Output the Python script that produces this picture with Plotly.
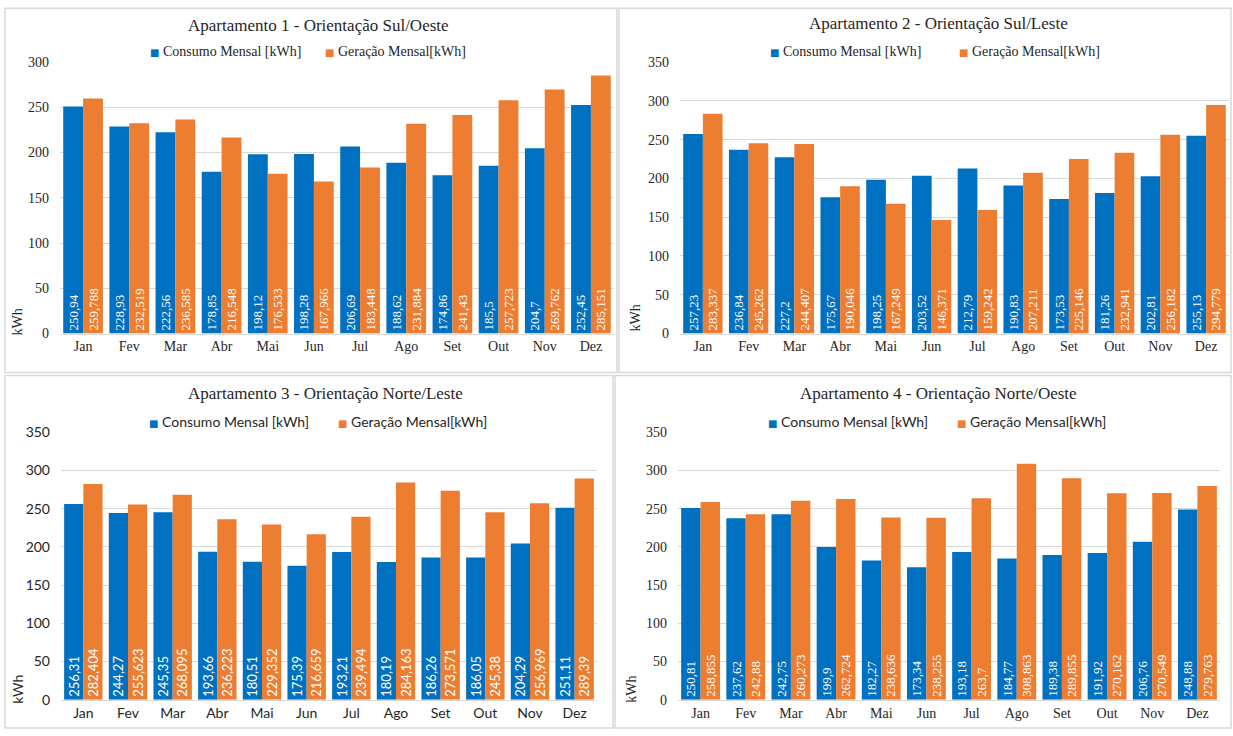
import plotly.graph_objects as go

W, H = 1233, 736

months = ['Jan', 'Fev', 'Mar', 'Abr', 'Mai', 'Jun', 'Jul', 'Ago', 'Set', 'Out', 'Nov', 'Dez']

ap1_consumo = [250.94, 228.93, 222.56, 178.85, 198.12, 198.28, 206.69, 188.62, 174.86, 185.5, 204.7, 252.45]
ap1_geracao = [259.788, 232.519, 236.585, 216.548, 176.533, 167.966, 183.448, 231.884, 241.43, 257.723, 269.762, 285.151]
ap2_consumo = [257.23, 236.84, 227.2, 175.67, 198.25, 203.52, 212.79, 190.83, 173.53, 181.26, 202.81, 255.13]
ap2_geracao = [283.337, 245.262, 244.407, 190.046, 167.249, 146.371, 159.242, 207.211, 225.146, 232.941, 256.182, 294.779]
ap3_consumo = [256.31, 244.27, 245.35, 193.66, 180.51, 175.39, 193.21, 180.19, 186.26, 186.05, 204.29, 251.11]
ap3_geracao = [282.404, 255.623, 268.095, 236.223, 229.352, 216.659, 239.494, 284.163, 273.571, 245.38, 256.969, 289.39]
ap4_consumo = [250.81, 237.62, 242.75, 199.9, 182.27, 173.34, 193.18, 184.77, 189.38, 191.92, 206.76, 248.88]
ap4_geracao = [258.855, 242.88, 260.273, 262.724, 238.636, 238.255, 263.7, 308.863, 289.855, 270.162, 270.549, 279.763]

titles = ['Apartamento 1 - Orientação Sul/Oeste', 'Apartamento 2 - Orientação Sul/Leste',
          'Apartamento 3 - Orientação Norte/Leste', 'Apartamento 4 - Orientação Norte/Oeste']
name_consumo = 'Consumo Mensal [kWh]'
name_geracao = 'Geração Mensal[kWh]'
y_max = [300, 350, 350, 350]

BLUE = '#0070C0'
ORANGE = '#ED7D31'
SERIF = 'Liberation Serif, Times New Roman, serif'
SANS = 'Lato, Calibri, sans-serif'
GRID = '#d9d9d9'
TXT = '#262626'


def Y(t):
    # compensate for the vertical scaling observed in the rendered page
    return (t - 7.8) / 0.979


panels = [
    dict(x0=60, x1=614, yt=61, yb=333, border=(5, 7, 617, 372), tick=SERIF, leg=SERIF, lab=SERIF,
         tx=318, ty=24, l1=148, l2=323, ly=50, kx=18, ky=322),
    dict(x0=680, x1=1229, yt=61, yb=333, border=(619, 7, 1231, 372), tick=SERIF, leg=SERIF, lab=SERIF,
         tx=938, ty=22, l1=768, l2=957, ly=50, kx=636, ky=318),
    dict(x0=61, x1=597, yt=432, yb=700, border=(5, 375, 613, 736), tick=SANS, leg=SANS, lab=SANS,
         tx=326, ty=393, l1=147, l2=336, ly=421, kx=18, ky=690),
    dict(x0=678, x1=1220, yt=432, yb=700, border=(615, 375, 1231, 736), tick=SERIF, leg=SANS, lab=SERIF,
         tx=938, ty=393, l1=766, l2=955, ly=421, kx=632, ky=690),
]

data = [(ap1_consumo, ap1_geracao), (ap2_consumo, ap2_geracao), (ap3_consumo, ap3_geracao), (ap4_consumo, ap4_geracao)]


def fmt(v):
    return str(v).replace('.', ',')


fig = go.Figure()
layout = dict(width=W, height=H, margin=dict(l=0, r=0, t=0, b=0), paper_bgcolor='white', plot_bgcolor='white',
              barmode='group', bargap=0.14, bargroupgap=0, showlegend=False,
              uniformtext=dict(minsize=13, mode='show'))
annotations = []
shapes = []

for i, (p, (cons, ger)) in enumerate(zip(panels, data)):
    k = '' if i == 0 else str(i + 1)
    for vals, name, col in ((cons, name_consumo, BLUE), (ger, name_geracao, ORANGE)):
        fig.add_trace(go.Bar(
            x=months, y=vals, name=name, marker=dict(color=col, line=dict(width=0)),
            text=[fmt(v) for v in vals], textposition='inside', insidetextanchor='start', textangle=-90,
            textfont=dict(color='white', size=13, family=p['lab']),
            xaxis='x' + k, yaxis='y' + k, hoverinfo='x+y'))
    layout['xaxis' + k] = dict(domain=[p['x0'] / W, p['x1'] / W], anchor='y' + k, showgrid=False,
                               showline=True, linecolor=GRID, ticks='',
                               tickfont=dict(family=p['tick'], size=14, color=TXT), fixedrange=True)
    layout['yaxis' + k] = dict(domain=[1 - Y(p['yb']) / H, 1 - Y(p['yt']) / H], anchor='x' + k,
                               range=[0, y_max[i]], dtick=50, showgrid=True, gridcolor=GRID, gridwidth=1,
                               zeroline=False, showline=False, ticks='',
                               tickfont=dict(family=p['tick'], size=14, color=TXT),
                               ticklabelstandoff=10, fixedrange=True)
    annotations.append(dict(text=titles[i], x=p['tx'] / W, y=1 - Y(p['ty']) / H, xref='paper', yref='paper',
                            xanchor='center', yanchor='middle', showarrow=False,
                            font=dict(family=SERIF, size=17, color=TXT)))
    for lx, name, col in ((p['l1'], name_consumo, BLUE), (p['l2'], name_geracao, ORANGE)):
        annotations.append(dict(
            text='<span style="color:%s;font-size:10px;font-family:DejaVu Sans">■</span> %s' % (col, name),
            x=lx / W, y=1 - Y(p['ly']) / H, xref='paper', yref='paper', xanchor='left', yanchor='middle',
            showarrow=False, font=dict(family=p['leg'], size=14, color=TXT)))
    annotations.append(dict(text='kWh', x=p['kx'] / W, y=1 - Y(p['ky']) / H, xref='paper', yref='paper',
                            xanchor='center', yanchor='middle', showarrow=False, textangle=-90,
                            font=dict(family=p['tick'], size=14, color=TXT)))
    bx0, by0, bx1, by1 = p['border']
    shapes.append(dict(type='rect', xref='paper', yref='paper', x0=bx0 / W, x1=bx1 / W,
                       y0=max(0, 1 - Y(by1) / H), y1=1 - Y(by0) / H,
                       line=dict(color=GRID, width=1.5), fillcolor='rgba(0,0,0,0)', layer='below'))

layout['annotations'] = annotations
layout['shapes'] = shapes
fig.update_layout(**layout)
fig.write_html('out.html')
